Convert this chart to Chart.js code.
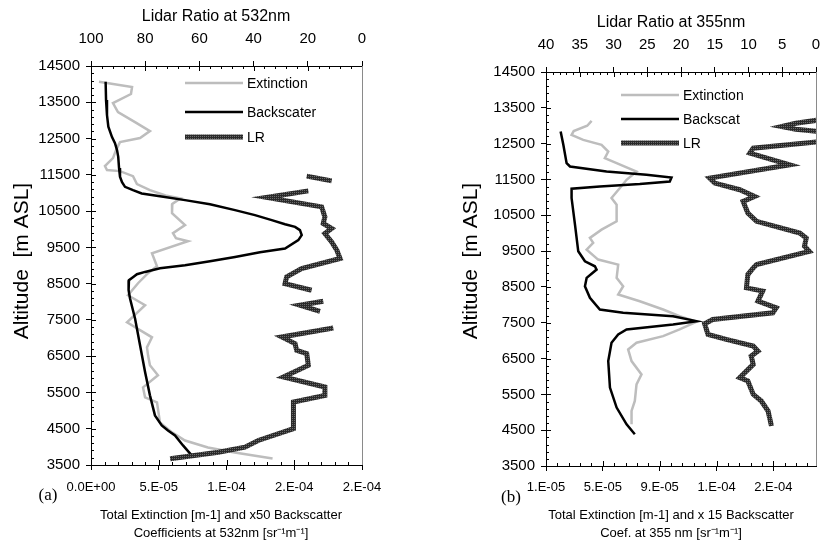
<!DOCTYPE html>
<html>
<head>
<meta charset="utf-8">
<script src="https://cdn.jsdelivr.net/npm/chart.js@4.4.1/dist/chart.umd.min.js"></script>
<style>
  body { margin: 0; background: #fff; }
  #wrap { position: relative; width: 822px; height: 543px; }
  canvas { position: absolute; top: 0; }
</style>
</head>
<body>
<div id="wrap">
  <canvas id="chartA" width="411" height="543" style="left:0"></canvas>
  <canvas id="chartB" width="411" height="543" style="left:411px"></canvas>
</div>
<script>
// ---- altitude axis (both panels)
const altTicks = [3500, 4500, 5500, 6500, 7500, 8500, 9500, 10500, 11500, 12500, 13500, 14500];
const altTickLabels = ['3500', '4500', '5500', '6500', '7500', '8500', '9500', '10500', '11500', '12500', '13500', '14500'];

// ---- panel (a) 532 nm
const extTicksA = [0, 5e-5, 1e-4, 1.5e-4, 2e-4];
const extTickLabelsA = ['0.0E+00', '5.E-05', '1.E-04', '2.E-04', '2.E-04'];
const lrTicksA = [0, 20, 40, 60, 80, 100];
const lrTickLabelsA = ['0', '20', '40', '60', '80', '100'];

const extAltA = [14067, 13920, 13727, 13479, 13230, 12954, 12706, 12513, 12402, 12182, 11961, 11740, 11630, 11602, 11464, 11243, 11078, 10930, 10850, 10700, 10443, 10112, 9891, 9753, 9670, 9339, 8980, 8787, 8511, 8180, 7904, 7434, 7020, 6744, 6524, 6248, 5972, 5640, 5364, 5226, 4674, 4398, 4176, 3984, 3846, 3680];
const extValA = [0.59e-5, 3.03e-5, 2.95e-5, 1.62e-5, 1.99e-5, 3.25e-5, 4.35e-5, 3.62e-5, 2.14e-5, 1.85e-5, 1.62e-5, 1.03e-5, 1.18e-5, 2.14e-5, 3.10e-5, 3.39e-5, 4.35e-5, 5.5e-5, 6.6e-5, 6.0e-5, 5.98e-5, 6.94e-5, 6.05e-5, 6.27e-5, 7.16e-5, 4.50e-5, 4.87e-5, 4.21e-5, 3.47e-5, 2.73e-5, 3.99e-5, 2.66e-5, 4.50e-5, 4.13e-5, 4.21e-5, 4.35e-5, 4.94e-5, 3.84e-5, 3.99e-5, 4.87e-5, 5.09e-5, 5.98e-5, 6.94e-5, 8.63e-5, 1.06e-4, 1.34e-4];

const bscAltA = [14067, 13562, 13148, 12825, 12540, 12374, 12182, 11997, 11685, 11445, 11299, 11169, 11078, 10987, 10912, 10802, 10691, 10526, 10388, 10250, 10139, 10065, 9974, 9836, 9698, 9469, 9366, 9237, 9118, 9008, 8925, 8823, 8759, 8685, 8594, 8502, 8318, 8088, 7537, 6800, 6063, 5420, 4868, 4592, 4454, 4316, 4040, 3764];
const bscValA = [1.08e-5, 1.11e-5, 1.18e-5, 1.28e-5, 1.55e-5, 1.77e-5, 1.92e-5, 2.01e-5, 2.07e-5, 2.14e-5, 2.29e-5, 2.51e-5, 3.10e-5, 3.74e-5, 5.09e-5, 6.94e-5, 8.78e-5, 1.063e-4, 1.21e-4, 1.334e-4, 1.432e-4, 1.506e-4, 1.542e-4, 1.555e-4, 1.53e-4, 1.432e-4, 1.247e-4, 1.063e-4, 8.78e-5, 6.94e-5, 5.09e-5, 3.99e-5, 3.39e-5, 3.12e-5, 2.80e-5, 2.75e-5, 2.80e-5, 2.88e-5, 3.25e-5, 3.62e-5, 3.99e-5, 4.35e-5, 4.72e-5, 5.22e-5, 5.68e-5, 6.2e-5, 6.79e-5, 7.43e-5];

// LR profile has gaps (null)
const lrAltA = [11464, 11334, null, 11058, 10876, 10617, 10341, 10158, 10020, 9882, 9651, 9422, 9192, 8916, 8685, 8502, 8318, null, 8014, 7904, 7738, null, 7277, 7030, 6846, 6662, 6570, 6247, 5925, 5649, 5420, 5235, 4500, 4176, 3991, 3853, 3670];
const lrValA = [20.4, 11.2, null, 19.8, 35.2, 14.9, 13.7, 14.3, 11.2, 13.7, 11.2, 9.3, 8.1, 22.3, 27.8, 28.4, 18.6, null, 14.3, 22.9, 15.5, null, 10.6, 29.6, 24.7, 24.1, 20.4, 19.8, 29.0, 13.7, 13.7, 25.3, 25.3, 38.3, 43.2, 53.0, 70.8];

// ---- panel (b) 355 nm
const extTicksB = [1e-5, 5e-5, 9e-5, 1.3e-4, 1.7e-4];
const extTickLabelsB = ['1.E-05', '5.E-05', '9.E-05', '1.E-04', '2.E-04'];
const lrTicksB = [0, 5, 10, 15, 20, 25, 30, 35, 40];
const lrTickLabelsB = ['0', '5', '10', '15', '20', '25', '30', '35', '40'];

const extAltB = [13135, 13000, 12850, 12745, 12606, 12466, 12280, 12096, 11956, 11722, 11491, 11260, 10981, 10795, 10330, 10098, 9867, 9728, 9541, 9263, 9123, 8752, 8518, 8287, 8101, 7869, 7683, 7527, 7312, 7126, 6942, 6755, 6429, 6058, 5780, 5315, 5036, 4665];
const extValB = [4.21e-5, 3.9e-5, 2.95e-5, 2.8e-5, 3.62e-5, 4.91e-5, 5.38e-5, 5.14e-5, 5.97e-5, 7.37e-5, 6.67e-5, 6.2e-5, 5.61e-5, 5.97e-5, 5.97e-5, 4.91e-5, 4.09e-5, 4.32e-5, 3.86e-5, 4.67e-5, 6.08e-5, 5.97e-5, 6.43e-5, 6.08e-5, 7.6e-5, 9.24e-5, 1.04e-4, 1.16e-4, 1.04e-4, 9.24e-5, 7.37e-5, 6.78e-5, 7.02e-5, 7.72e-5, 7.37e-5, 7.25e-5, 7.02e-5, 7.02e-5];

const bscAltB = [12837, 12466, 11956, 11862, 11722, 11630, 11556, 11444, 11371, 11305, 11240, 10981, 10237, 9494, 9215, 9076, 8984, 8752, 8518, 8195, 7869, 7777, 7683, 7544, 7451, 7312, 7173, 6942, 6429, 5688, 5131, 4665, 4387];
const bscValB = [2.03e-5, 2.22e-5, 2.45e-5, 2.69e-5, 5.26e-5, 8.07e-5, 9.83e-5, 9.71e-5, 7.6e-5, 4.79e-5, 2.8e-5, 2.8e-5, 3.04e-5, 3.27e-5, 3.74e-5, 4.44e-5, 4.56e-5, 3.86e-5, 3.74e-5, 4.09e-5, 4.79e-5, 6.43e-5, 9.94e-5, 1.16e-4, 9.94e-5, 6.67e-5, 6.08e-5, 5.61e-5, 5.38e-5, 5.5e-5, 5.97e-5, 6.67e-5, 7.25e-5];

const lrAltB = [13163, 13070, 12976, 12900, 12837, 12700, 12558, 12374, 12235, 12048, 11909, 11538, 11399, 11213, 11026, 10887, 10563, 10330, 10006, 9867, 9633, 9494, 9123, 9030, 8845, 8474, 8381, 8101, 7916, 7777, 7591, 7471, 7173, 7033, 6847, 6708, 6569, 6337, 5966, 5873, 5501, 5315, 5036, 4618];
const lrValB = [-0.5, 3.0, 5.1, 3.0, -0.5, -1.0, -0.5, 9.3, 9.8, 6.4, 3.9, 15.75, 15.0, 11.3, 9.1, 10.8, 10.1, 8.8, 2.4, 1.45, 1.7, 1.0, 8.8, 9.3, 10.1, 10.3, 7.9, 8.6, 5.9, 6.4, 15.3, 16.5, 16.0, 13.3, 9.3, 8.6, 9.6, 9.3, 11.3, 10.1, 9.3, 8.1, 7.1, 6.6];

// ---------------------------------------------------------------
Chart.defaults.font.family = "'Liberation Sans', Arial, sans-serif";
Chart.defaults.color = '#000';
Chart.defaults.animation = false;

function pts(alts, vals) {
  return alts.map((a, i) => ({ x: vals[i], y: a }));
}

// dotted texture used for the LR line
function hatch() {
  const c = document.createElement('canvas');
  c.width = 2; c.height = 2;
  const g = c.getContext('2d');
  g.fillStyle = '#2a2a2a';
  g.fillRect(0, 0, 2, 2);
  g.fillStyle = '#6a6a6a';
  g.fillRect(0, 0, 1, 1);
  return g.createPattern(c, 'repeat');
}
const lrColor = hatch();

// inner tick marks (majors cross the axis, minors inside) + grey right edge
const minorTicks = {
  id: 'minorTicks',
  afterDraw(chart, args, opts) {
    const ctx = chart.ctx;
    const a = chart.chartArea;
    ctx.save();
    ctx.strokeStyle = '#000';
    ctx.lineWidth = 1;
    ctx.beginPath();
    opts.axes.forEach(ax => {
      const s = chart.scales[ax.id];
      const n = Math.floor((s.max - s.min) / ax.step + 1e-6);
      const majors = s.ticks.map(t => s.getPixelForValue(t.value));
      for (let i = 0; i <= n; i++) {
        let p = s.getPixelForValue(s.min + i * ax.step);
        const len = majors.some(m => Math.abs(m - p) < 0.6) ? 5 : 3;
        p = Math.round(p) + 0.5;
        if (ax.side === 'left') { ctx.moveTo(a.left, p); ctx.lineTo(a.left + len, p); }
        if (ax.side === 'bottom') { ctx.moveTo(p, a.bottom); ctx.lineTo(p, a.bottom - len); }
        if (ax.side === 'top') { ctx.moveTo(p, a.top); ctx.lineTo(p, a.top + len); }
      }
    });
    ctx.stroke();
    ctx.strokeStyle = '#8a8a8a';
    ctx.beginPath();
    const rx = Math.round(a.right) + 0.5;
    ctx.moveTo(rx, a.top);
    ctx.lineTo(rx, a.bottom);
    ctx.stroke();
    ctx.restore();
  }
};

// titles, panel letter and in-plot legend
const panelDecor = {
  id: 'panelDecor',
  afterDraw(chart, args, o) {
    const ctx = chart.ctx;
    ctx.save();
    ctx.fillStyle = '#000';
    ctx.textAlign = 'center';
    ctx.textBaseline = 'middle';
    ctx.font = "16px 'Liberation Sans', Arial, sans-serif";
    ctx.fillText(o.topTitle, o.topTitleX, o.topTitleY);
    ctx.font = "13px 'Liberation Sans', Arial, sans-serif";
    o.bottomTitle.forEach((t, i) => ctx.fillText(t, o.bottomTitleX, o.bottomTitleY + i * 18));
    ctx.font = "17px 'Liberation Serif', 'Times New Roman', serif";
    ctx.fillText(o.panel, o.panelX, o.panelY);
    ctx.save();
    ctx.translate(o.yTitleX, o.yTitleY);
    ctx.rotate(-Math.PI / 2);
    ctx.font = "21px 'Liberation Sans', Arial, sans-serif";
    ctx.fillText(o.yTitle, 0, 0);
    ctx.restore();

    ctx.textAlign = 'left';
    ctx.font = "14px 'Liberation Sans', Arial, sans-serif";
    chart.data.datasets.forEach((ds, i) => {
      const y = o.legendY[i];
      ctx.strokeStyle = ds.borderColor;
      ctx.lineWidth = ds.borderWidth;
      ctx.beginPath();
      ctx.moveTo(o.legendX1, y);
      ctx.lineTo(o.legendX2, y);
      ctx.stroke();
      ctx.fillText(ds.label, o.legendTextX, y + 1);
    });
    ctx.restore();
  }
};

function axisX(pos, min, max, vals, labels, pad, size, fit, reverse) {
  return {
    type: 'linear', position: pos, min: min, max: max, reverse: !!reverse,
    afterBuildTicks: s => { s.ticks = vals.map(v => ({ value: v })); },
    afterFit: s => { s.height = fit; s.paddingLeft = 0; s.paddingRight = 0; },
    ticks: { callback: (v, i) => labels[i], autoSkip: false, maxRotation: 0, padding: pad, font: { size: size } },
    grid: { drawOnChartArea: false, tickLength: 5, color: '#000' },
    border: { color: '#000' }
  };
}

function axisY(fit) {
  return {
    type: 'linear', min: 3500, max: 14500,
    afterBuildTicks: s => { s.ticks = altTicks.map(v => ({ value: v })); },
    afterFit: s => { s.width = fit; },
    ticks: { callback: (v, i) => altTickLabels[i], autoSkip: false, padding: 6, font: { size: 15 } },
    grid: { drawOnChartArea: false, tickLength: 5, color: '#000' },
    border: { color: '#000' }
  };
}

function datasets(names, ext, bsc, lr) {
  return [
    { label: names[0], data: ext, xAxisID: 'x', borderColor: '#bdbdbd', borderWidth: 2.5, showLine: true, pointRadius: 0, order: 3 },
    { label: names[1], data: bsc, xAxisID: 'x', borderColor: '#000', borderWidth: 2.5, showLine: true, pointRadius: 0, order: 2 },
    { label: names[2], data: lr, xAxisID: 'x2', borderColor: lrColor, borderWidth: 5, showLine: true, pointRadius: 0, order: 1, spanGaps: false }
  ];
}

// panel (a)
new Chart(document.getElementById('chartA'), {
  type: 'scatter',
  data: { datasets: datasets(['Extinction', 'Backscater', 'LR'], pts(extAltA, extValA), pts(bscAltA, bscValA), pts(lrAltA, lrValA)) },
  options: {
    responsive: false,
    layout: { padding: { left: 0, right: 49, top: 0, bottom: 0 } },
    scales: {
      x: axisX('bottom', 0, 2e-4, extTicksA, extTickLabelsA, 10, 13, 78),
      x2: axisX('top', 0, 100, lrTicksA, lrTickLabelsA, 13.5, 15, 66, true),
      y: axisY(91)
    },
    plugins: {
      legend: { display: false },
      tooltip: { enabled: false },
      minorTicks: { axes: [{ id: 'y', step: 200, side: 'left' }, { id: 'x', step: 1e-5, side: 'bottom' }, { id: 'x2', step: 4, side: 'top' }] },
      panelDecor: {
        topTitle: 'Lidar Ratio at 532nm', topTitleX: 216, topTitleY: 17,
        bottomTitle: ['Total Extinction [m-1] and x50 Backscatter', 'Coefficients at 532nm [sr\u207B\u00B9m\u207B\u00B9]'],
        bottomTitleX: 221, bottomTitleY: 515,
        panel: '(a)', panelX: 48, panelY: 496,
        yTitle: 'Altitude  [m ASL]', yTitleX: 22, yTitleY: 261,
        legendX1: 185, legendX2: 243, legendTextX: 247, legendY: [83, 112, 137]
      }
    }
  },
  plugins: [minorTicks, panelDecor]
});

// panel (b)
new Chart(document.getElementById('chartB'), {
  type: 'scatter',
  data: { datasets: datasets(['Extinction', 'Backscat', 'LR'], pts(extAltB, extValB), pts(bscAltB, bscValB), pts(lrAltB, lrValB)) },
  options: {
    responsive: false,
    layout: { padding: { left: 0, right: 6, top: 0, bottom: 0 } },
    scales: {
      x: axisX('bottom', 1e-5, 2e-4, extTicksB, extTickLabelsB, 9, 13, 77),
      x2: axisX('top', 0, 40, lrTicksB, lrTickLabelsB, 13, 15, 72, true),
      y: axisY(135)
    },
    plugins: {
      legend: { display: false },
      tooltip: { enabled: false },
      minorTicks: { axes: [{ id: 'y', step: 200, side: 'left' }, { id: 'x', step: 8e-6, side: 'bottom' }, { id: 'x2', step: 1, side: 'top' }] },
      panelDecor: {
        topTitle: 'Lidar Ratio at 355nm', topTitleX: 260, topTitleY: 23,
        bottomTitle: ['Total Extinction [m-1] and x 15 Backscatter', 'Coef. at 355 nm [sr\u207B\u00B9m\u207B\u00B9]'],
        bottomTitleX: 260, bottomTitleY: 515,
        panel: '(b)', panelX: 100, panelY: 498,
        yTitle: 'Altitude  [m ASL]', yTitleX: 60, yTitleY: 261,
        legendX1: 210, legendX2: 268, legendTextX: 272, legendY: [95, 119, 143]
      }
    }
  },
  plugins: [minorTicks, panelDecor]
});
</script>
</body>
</html>
